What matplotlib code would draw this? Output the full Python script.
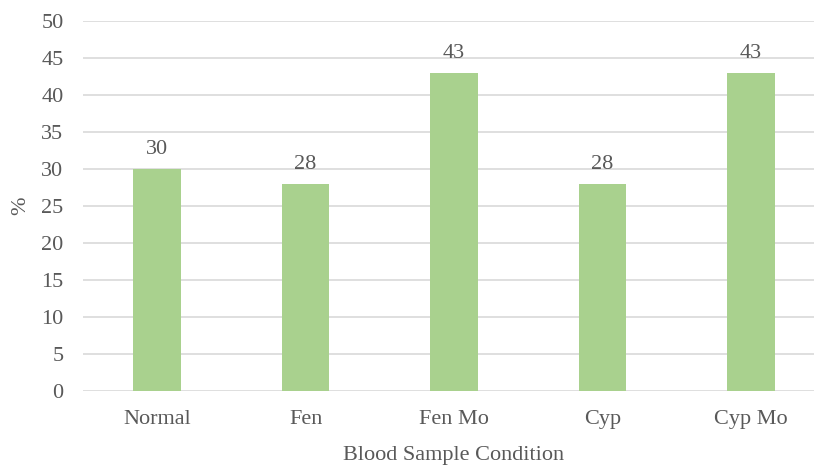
import matplotlib.pyplot as plt
import numpy as np

categories = ['Normal', 'Fen', 'Fen Mo', 'Cyp', 'Cyp Mo']
values = [30, 28, 43, 28, 43]

plt.rcParams['font.family'] = ['Liberation Serif', 'DejaVu Serif']

text_color = '#595959'
fs = 16

fig = plt.figure(figsize=(8.14, 4.66), dpi=100)
# plot area runs slightly past the right edge, as in the original crop
ax = fig.add_axes([83 / 814, 75 / 466, 742 / 814, 370 / 466])

x = np.arange(len(categories))
ax.bar(x, values, width=0.32, color='#A9D18E', zorder=3)

for xi, v in zip(x, values):
    ax.text(xi, v + 1.3, str(v), ha='center', va='bottom', fontsize=fs, color=text_color)

ax.set_xlim(-0.5, len(categories) - 0.5)
ax.set_ylim(0, 50)
ax.set_yticks(np.arange(0, 51, 5))
ax.set_xticks(x)
ax.set_xticklabels(categories)

ax.grid(axis='y', color='#D9D9D9', linewidth=1.2, zorder=0)
for s in ax.spines.values():
    s.set_visible(False)
ax.tick_params(length=0, labelsize=fs, colors=text_color)
ax.tick_params(axis='y', pad=14)
ax.tick_params(axis='x', pad=14)

ax.set_xlabel('Blood Sample Condition', fontsize=fs, color=text_color, labelpad=12)
ax.set_ylabel('%', fontsize=fs, color=text_color, labelpad=8)

fig.savefig('out.png', dpi=100)
